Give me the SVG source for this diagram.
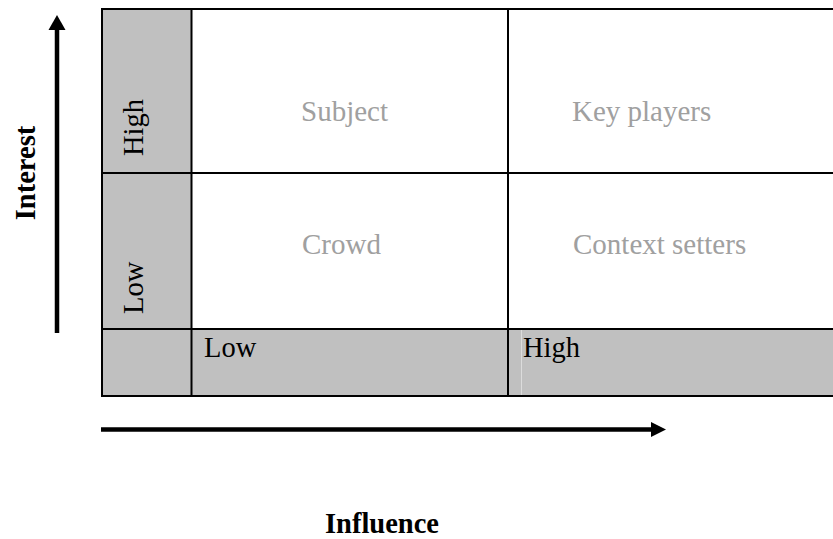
<svg xmlns="http://www.w3.org/2000/svg" width="833" height="539" viewBox="0 0 833 539">
  <style>
    .cell { fill: #ffffff; }
    .band { fill: #c0c0c0; }
    .rule { stroke: #000000; stroke-width: 2; fill: none; }
    .quad { font-family: "Liberation Serif", "Times New Roman", serif; font-size: 29px; fill: #a0a0a0; }
    .lvl { font-family: "Liberation Serif", "Times New Roman", serif; font-size: 28.5px; fill: #000000; }
    .axis { font-family: "Liberation Serif", "Times New Roman", serif; font-size: 28.5px; font-weight: bold; fill: #000000; }
    .shaft { stroke: #000000; stroke-width: 4.5; fill: none; }
  </style>

  <rect x="0" y="0" width="833" height="539" fill="#ffffff"/>

  <!-- grid background -->
  <g id="grid">
    <rect class="band" x="102" y="9" width="89" height="387"/>
    <rect class="band" x="191" y="329" width="642" height="67"/>
    <line x1="521.5" y1="330" x2="521.5" y2="395" stroke="#dcdcdc" stroke-width="1"/>
  </g>

  <!-- quadrants -->
  <g id="subject">
    <text class="quad" x="301" y="121">Subject</text>
  </g>
  <g id="key-players">
    <text class="quad" x="572" y="121">Key players</text>
  </g>
  <g id="crowd">
    <text class="quad" x="302" y="254">Crowd</text>
  </g>
  <g id="context-setters">
    <text class="quad" x="573" y="254">Context setters</text>
  </g>

  <!-- level labels -->
  <g id="interest-high">
    <text class="lvl" transform="translate(143,156) rotate(-90)">High</text>
  </g>
  <g id="interest-low">
    <text class="lvl" transform="translate(143,314) rotate(-90)">Low</text>
  </g>
  <g id="influence-low">
    <text class="lvl" x="204" y="357">Low</text>
  </g>
  <g id="influence-high">
    <text class="lvl" x="523" y="357">High</text>
  </g>

  <!-- grid rules -->
  <g id="rules" class="rule">
    <line x1="101" y1="9" x2="833" y2="9"/>
    <line x1="101" y1="173" x2="833" y2="173"/>
    <line x1="101" y1="329" x2="833" y2="329"/>
    <line x1="101" y1="396" x2="833" y2="396"/>
    <line x1="102" y1="8" x2="102" y2="397"/>
    <line x1="191.5" y1="8" x2="191.5" y2="397"/>
    <line x1="508" y1="8" x2="508" y2="397"/>
  </g>

  <!-- axes -->
  <g id="connectors">
    <line class="shaft" x1="57" y1="333" x2="57" y2="28"/>
    <polygon points="57,15 48.5,30 65.5,30" fill="#000000"/>
    <line class="shaft" x1="101" y1="429.5" x2="652" y2="429.5"/>
    <polygon points="666,429.5 651,422 651,437" fill="#000000"/>
  </g>

  <g id="interest-axis">
    <text class="axis" transform="translate(35,173) rotate(-90)" text-anchor="middle">Interest</text>
  </g>
  <g id="influence-axis">
    <text class="axis" x="382" y="533" text-anchor="middle">Influence</text>
  </g>
</svg>
